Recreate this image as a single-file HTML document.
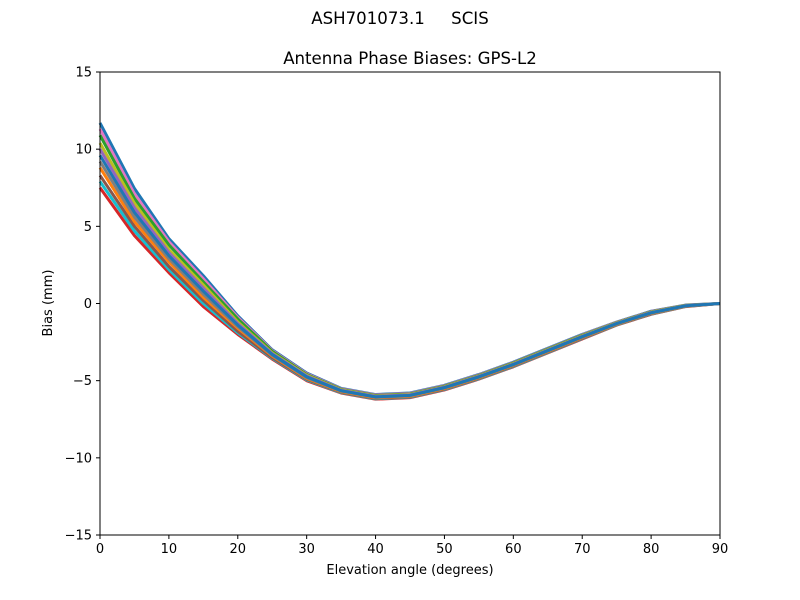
<!DOCTYPE html>
<html><head><meta charset="utf-8"><style>
html,body{margin:0;padding:0;background:#fff;}
svg{display:block;font-family:"DejaVu Sans","Liberation Sans",sans-serif;}
</style></head><body>
<svg id="chart" width="800" height="600">
<rect width="800" height="600" fill="#fff"/>
<text x="400" y="24" text-anchor="middle" font-size="16.6">ASH701073.1&#160;&#160;&#160;&#160;&#160;SCIS</text>
<text x="410" y="64" text-anchor="middle" font-size="16.6">Antenna Phase Biases: GPS-L2</text>
<g id="lines"></g>
<g id="axes"></g>
<text x="410" y="574" text-anchor="middle" font-size="13">Elevation angle (degrees)</text>
<text x="0" y="0" transform="translate(52,303) rotate(-90)" text-anchor="middle" font-size="13">Bias (mm)</text>
</svg>
<script>
const elevations=[0,5,10,15,20,25,30,35,40,45,50,55,60,65,70,75,80,85,90];
const s0=[7.5,4.4,2.0,-0.2,-2.0,-3.6,-5.0,-5.8,-6.2,-6.1,-5.6,-4.9,-4.1,-3.2,-2.3,-1.4,-0.7,-0.2,0];
const s1=[7.9,4.7,2.2,0.0,-1.9,-3.55,-4.95,-5.77,-6.17,-6.07,-5.57,-4.87,-4.07,-3.17,-2.27,-1.38,-0.68,-0.19,0];
const s2=[8.3,5.0,2.4,0.2,-1.8,-3.5,-4.9,-5.74,-6.14,-6.04,-5.54,-4.84,-4.04,-3.14,-2.24,-1.36,-0.66,-0.18,0];
const s3=[8.8,5.3,2.7,0.4,-1.6,-3.4,-4.85,-5.71,-6.11,-6.01,-5.51,-4.81,-4.01,-3.11,-2.21,-1.34,-0.64,-0.17,0];
const s4=[9.2,5.6,2.9,0.6,-1.5,-3.35,-4.8,-5.68,-6.08,-5.98,-5.48,-4.78,-3.98,-3.08,-2.18,-1.32,-0.62,-0.16,0];
const s5=[9.6,5.9,3.1,0.8,-1.4,-3.3,-4.75,-5.65,-6.05,-5.95,-5.45,-4.75,-3.95,-3.05,-2.15,-1.3,-0.6,-0.15,0];
const s6=[10.0,6.2,3.3,1.0,-1.3,-3.25,-4.7,-5.62,-6.02,-5.92,-5.42,-4.72,-3.92,-3.02,-2.12,-1.28,-0.58,-0.14,0];
const s7=[10.4,6.5,3.5,1.2,-1.2,-3.2,-4.65,-5.59,-5.99,-5.89,-5.39,-4.69,-3.89,-2.99,-2.09,-1.26,-0.56,-0.13,0];
const s8=[10.9,6.8,3.8,1.4,-1.0,-3.1,-4.6,-5.56,-5.96,-5.86,-5.36,-4.66,-3.86,-2.96,-2.06,-1.24,-0.54,-0.12,0];
const s9=[11.3,7.1,4.0,1.6,-0.9,-3.05,-4.55,-5.53,-5.93,-5.83,-5.33,-4.63,-3.83,-2.93,-2.03,-1.22,-0.52,-0.11,0];
const s10=[11.7,7.45,4.2,1.8,-0.8,-3.0,-4.5,-5.5,-5.9,-5.8,-5.3,-4.6,-3.8,-2.9,-2.0,-1.2,-0.5,-0.1,0];
const series=[s10,s0,s9,s1,s8,s2,s7,s3,s6,s4,s5];
const xTicks=[0,10,20,30,40,50,60,70,80,90];
const yTicks=[15,10,5,0,-5,-10,-15];
const yTickLabels=["15","10","5","0","\u22125","\u221210","\u221215"];

const X0=100,X1=720,Y0=72,Y1=535;
const xs=v=>X0+(v-0)/(90-0)*(X1-X0);
const ys=v=>Y1-(v+15)/30*(Y1-Y0);
const NS="http://www.w3.org/2000/svg";
const colors=["#1f77b4","#ff7f0e","#2ca02c","#d62728","#9467bd","#8c564b","#e377c2","#7f7f7f","#bcbd22","#17becf"];
const lg=document.getElementById('lines');
series.forEach((s,i)=>{
  const p=document.createElementNS(NS,'polyline');
  p.setAttribute('points',s.map((v,j)=>xs(elevations[j])+','+ys(v)).join(' '));
  p.setAttribute('fill','none');
  p.setAttribute('stroke',colors[(i*3)%10]);
  p.setAttribute('stroke-width','3');
  p.setAttribute('stroke-linejoin','round');
  
  
  lg.appendChild(p);
});
const ag=document.getElementById('axes');
const fr=document.createElementNS(NS,'rect');
fr.setAttribute('x',X0);fr.setAttribute('y',Y0);fr.setAttribute('width',X1-X0);fr.setAttribute('height',Y1-Y0);
fr.setAttribute('fill','none');fr.setAttribute('stroke','#000');fr.setAttribute('stroke-width','1');


ag.appendChild(fr);
xTicks.forEach(t=>{
  const l=document.createElementNS(NS,'line');
  l.setAttribute('x1',xs(t));l.setAttribute('x2',xs(t));l.setAttribute('y1',Y1);l.setAttribute('y2',Y1+4);l.setAttribute('stroke','#000');
  
  
  ag.appendChild(l);
  const tx=document.createElementNS(NS,'text');
  tx.setAttribute('x',xs(t));tx.setAttribute('y',Y1+18);tx.setAttribute('text-anchor','middle');tx.setAttribute('font-size','13');
  tx.textContent=t;
  
  
  ag.appendChild(tx);
});
yTicks.forEach((t,i)=>{
  const l=document.createElementNS(NS,'line');
  l.setAttribute('x1',X0-4);l.setAttribute('x2',X0);l.setAttribute('y1',ys(t));l.setAttribute('y2',ys(t));l.setAttribute('stroke','#000');
  
  
  ag.appendChild(l);
  const tx=document.createElementNS(NS,'text');
  tx.setAttribute('x',X0-8);tx.setAttribute('y',ys(t)+4.5);tx.setAttribute('text-anchor','end');tx.setAttribute('font-size','13');
  tx.textContent=yTickLabels[i];
  
  
  ag.appendChild(tx);
});
</script>
</body></html>
